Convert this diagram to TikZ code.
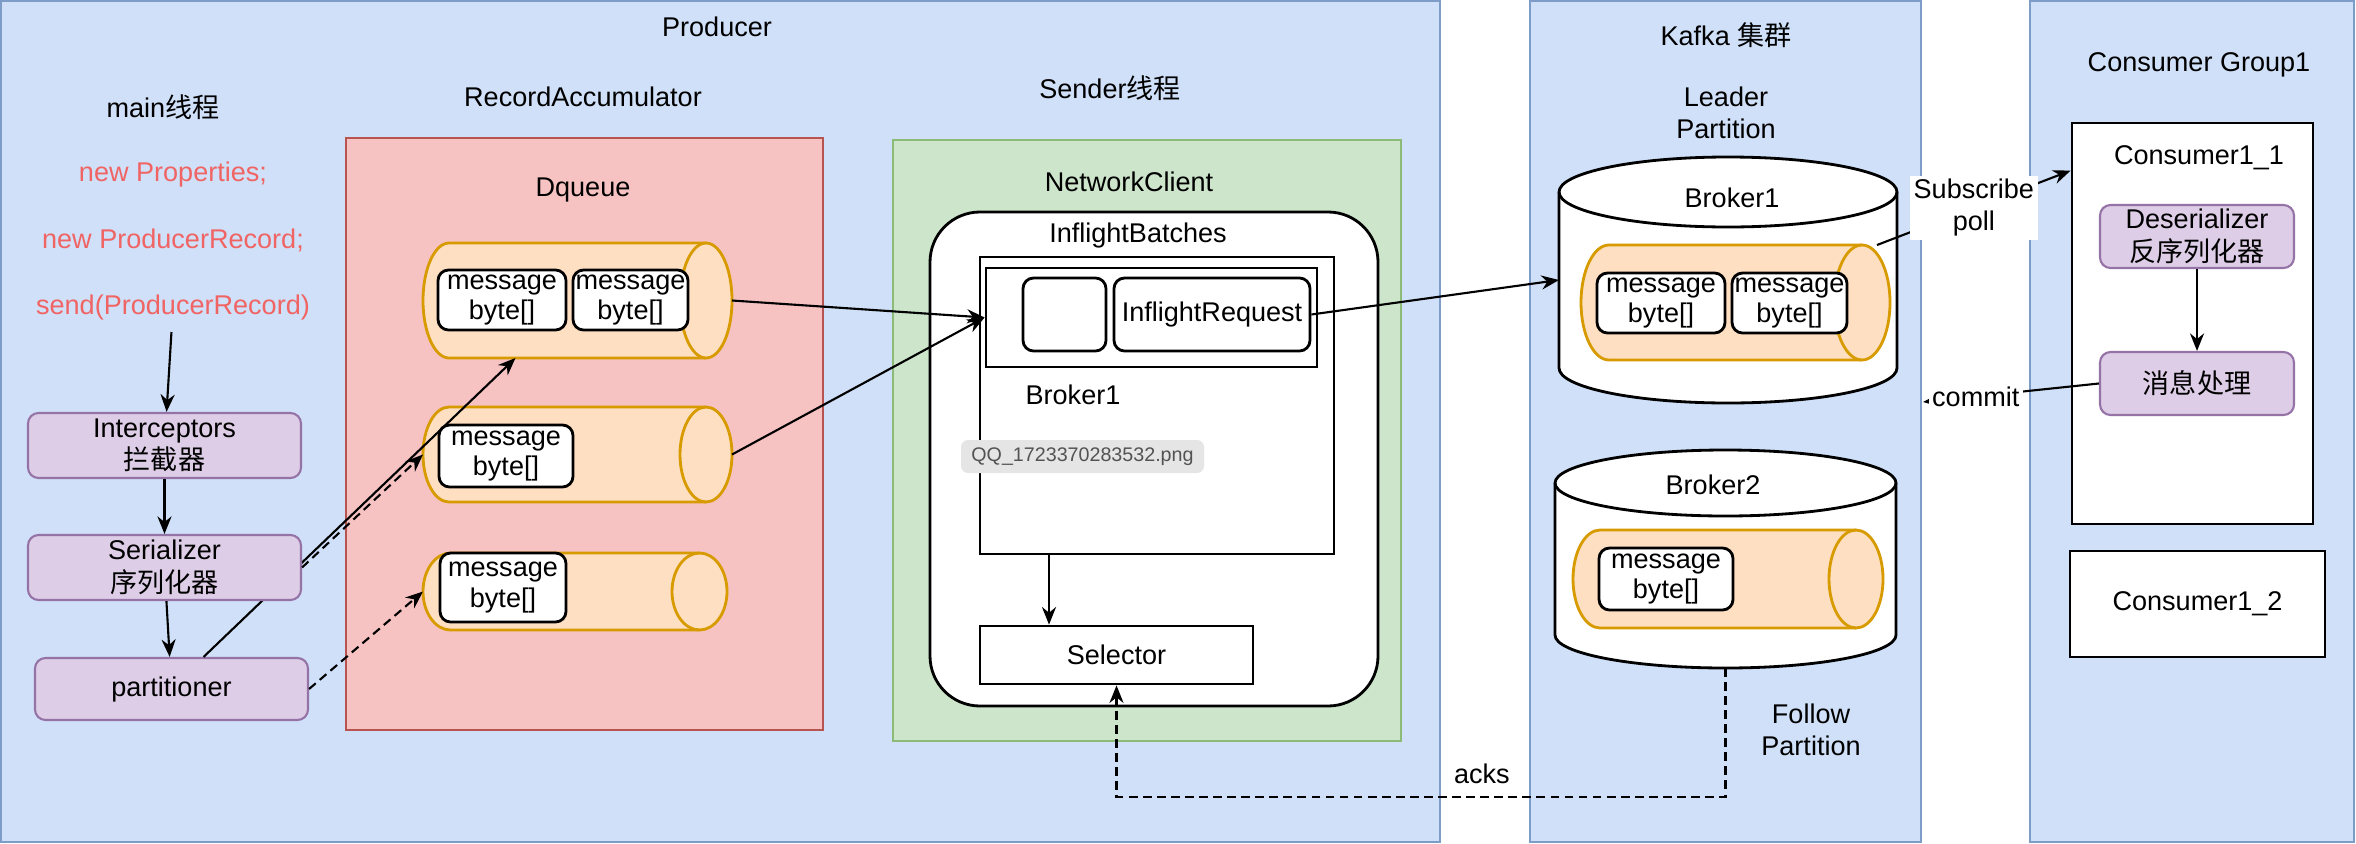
\documentclass[tikz,border=0pt]{standalone}
\usepackage{fontspec}
\setmainfont{Liberation Sans}
\newfontfamily\cjk{Noto Sans CJK SC}
\usepackage{xcolor}
\definecolor{mblue}{HTML}{CFE0F8}
\definecolor{mblueline}{HTML}{7E9CC8}
\definecolor{mpink}{HTML}{F6C3C2}
\definecolor{mpinkline}{HTML}{B85450}
\definecolor{mgreen}{HTML}{CDE5CA}
\definecolor{mgreenline}{HTML}{8CBB78}
\definecolor{morange}{HTML}{FFDFC2}
\definecolor{morangeline}{HTML}{D79B00}
\definecolor{mpurple}{HTML}{DDCDE6}
\definecolor{mpurpleline}{HTML}{9673A6}
\definecolor{mred}{HTML}{F06464}
\usepackage{tikz}
\usetikzlibrary{arrows.meta,positioning}

\begin{document}
\begin{tikzpicture}[x=1cm, y=-1cm,
    font=\fontsize{7.7}{9.2}\selectfont,
    panel/.style={draw=mblueline, fill=mblue, semithick},
    procbox/.style={draw=mpurpleline, fill=mpurple, semithick, rounded corners=3pt, align=center, inner sep=0pt},
    msg/.style={draw, thick, fill=white, rounded corners=3pt, align=center, inner sep=0pt, font=\fontsize{7.7}{8.6}\selectfont},
    plainbox/.style={draw, thick, fill=white, align=center, inner sep=0pt},
    arr/.style={-{Stealth[length=5pt, width=4pt]}, semithick},
    dsh/.style={arr, dash pattern=on 2.5pt off 1.5pt},
    pics/hcyl/.style n args={3}{code={
        \node[minimum width=#1cm, minimum height=#2cm, inner sep=0pt, outer sep=0pt] (-box) {};
        \draw[draw=morangeline, fill=morange, thick] ([xshift=#3cm]-box.north west) -- ([xshift=-#3cm]-box.north east)
            arc[start angle=90, end angle=-90, x radius=#3cm, y radius=#2cm/2] -- ([xshift=#3cm]-box.south west)
            arc[start angle=270, end angle=90, x radius=#3cm, y radius=#2cm/2] -- cycle;
        \draw[draw=morangeline, thick] ([xshift=-#3cm]-box.north east) arc[start angle=90, end angle=270, x radius=#3cm, y radius=#2cm/2];
    }},
    pics/vcyl/.style n args={3}{code={
        \node[minimum width=#1cm, minimum height=#2cm, inner sep=0pt, outer sep=0pt] (-box) {};
        \draw[thick, fill=white] ([yshift=-#3cm]-box.north west) -- ([yshift=#3cm]-box.south west)
            arc[start angle=180, end angle=360, x radius=#1cm/2, y radius=#3cm] -- ([yshift=-#3cm]-box.north east)
            arc[start angle=0, end angle=180, x radius=#1cm/2, y radius=#3cm] -- cycle;
        \draw[thick] ([yshift=-#3cm]-box.north west) arc[start angle=180, end angle=360, x radius=#1cm/2, y radius=#3cm];
    }}]
    \useasboundingbox (0,0) rectangle (23.56,8.43);
    \fill[white] (0,0) rectangle (23.56,8.43);
    \draw[panel] (0.01,0.01) rectangle (14.40,8.42);
    \draw[panel] (15.30,0.01) rectangle (19.21,8.42);
    \draw[panel] (20.30,0.01) rectangle (23.54,8.42);
    \node (producer) at (7.17,0.27) {Producer};
    \node (kafka) at (17.26,0.35) {Kafka \cjk{集群}};
    \node (cgroup) at (21.99,0.65) {Consumer Group1};
    \node[align=center] (leader) at (17.26,1.13) {Leader\\Partition};

    \node (mainth) at (1.63,1.07) {main\cjk{线程}};
    \node[text=mred] (props) at (1.73,1.75) {new Properties;};
    \node[text=mred] (precord) at (1.73,2.40) {new ProducerRecord;};
    \node[text=mred] (send) at (1.73,3.07) {send(ProducerRecord)};
    \node[procbox, minimum width=2.73cm, minimum height=0.65cm] (icpt) at (1.645,4.455) {Interceptors\\\cjk{拦截器}};
    \node[procbox, minimum width=2.73cm, minimum height=0.62cm] (part) at (1.715,6.89) {partitioner};

    \node (raccu) at (5.83,0.97) {RecordAccumulator};
    \draw[draw=mpinkline, fill=mpink, semithick] (3.46,1.38) rectangle (8.23,7.30);
    \node (dqueue) at (5.83,1.90) {Dqueue};
    \pic (q1) at (5.775,3.005) {hcyl={3.09}{1.15}{0.26}};
    \pic (q2) at (5.775,4.545) {hcyl={3.09}{0.95}{0.26}};
    \pic (q3) at (5.75,5.915) {hcyl={3.04}{0.77}{0.275}};
    \node[msg, minimum width=1.28cm, minimum height=0.60cm] (m11) at (5.02,3.00) {message\\byte[]};
    \node[msg, minimum width=1.15cm, minimum height=0.60cm] (m12) at (6.305,3.00) {message\\byte[]};
    \node[msg, minimum width=1.34cm, minimum height=0.62cm] (m2) at (5.06,4.56) {message\\byte[]};
    \node[msg, minimum width=1.26cm, minimum height=0.69cm] (m3) at (5.03,5.875) {message\\byte[]};

    \draw[arr] (part.45) -- ([xshift=-0.62cm]q1-box.south);
    \node[procbox, minimum width=2.73cm, minimum height=0.65cm] (ser) at (1.645,5.675) {Serializer\\\cjk{序列化器}};
    \draw[arr] (send) -- (icpt);
    \draw[arr] (icpt) -- (ser);
    \draw[arr] (ser) -- (part);
    \draw[dsh] (ser.east) -- (q2-box.west);
    \draw[dsh] (part.east) -- (q3-box.west);

    \node (senderth) at (11.10,0.88) {Sender\cjk{线程}};
    \draw[draw=mgreenline, fill=mgreen, semithick] (8.93,1.40) rectangle (14.01,7.41);
    \node (nclient) at (11.29,1.82) {NetworkClient};
    \draw[thick, fill=white, rounded corners=0.5cm] (9.30,2.12) rectangle (13.78,7.06);
    \node (ibatches) at (11.38,2.35) {InflightBatches};
    \node[plainbox, minimum width=3.54cm, minimum height=2.97cm] (bcont) at (11.57,4.055) {};
    \node[plainbox, minimum width=3.31cm, minimum height=0.99cm] (irow) at (11.515,3.175) {};
    \node[msg, minimum width=0.83cm, minimum height=0.73cm] (islot) at (10.645,3.145) {};
    \node[msg, minimum width=1.96cm, minimum height=0.73cm] (ireq) at (12.12,3.145) {InflightRequest};
    \node (bname) at (10.73,3.95) {Broker1};
    \node[fill=gray!20, text=gray!65!black, rounded corners=2pt, minimum width=2.43cm, minimum height=0.33cm, inner sep=0pt, font=\fontsize{5.6}{6.7}\selectfont] (tip) at (10.825,4.565) {QQ\_1723370283532.png};
    \node[plainbox, minimum width=2.73cm, minimum height=0.58cm] (sel) at (11.165,6.55) {Selector};
    \draw[arr] ([xshift=-1.08cm]bcont.south) -- ([xshift=-1.08cm]bcont.south |- sel.north);
    \draw[arr] (q1-box.east) -- (irow.west);
    \draw[arr] (q2-box.east) -- (irow.west);

    \pic (bk1) at (17.28,2.80) {vcyl={3.38}{2.46}{0.35}};
    \node (bk1name) at (17.32,1.98) {Broker1};
    \pic (q4) at (17.355,3.025) {hcyl={3.09}{1.15}{0.28}};
    \node[msg, minimum width=1.28cm, minimum height=0.60cm] (m41) at (16.61,3.03) {message\\byte[]};
    \node[msg, minimum width=1.15cm, minimum height=0.60cm] (m42) at (17.895,3.03) {message\\byte[]};
    \pic (bk2) at (17.255,5.59) {vcyl={3.41}{2.18}{0.33}};
    \node (bk2name) at (17.13,4.85) {Broker2};
    \pic (q5) at (17.28,5.79) {hcyl={3.10}{0.98}{0.27}};
    \node[msg, minimum width=1.34cm, minimum height=0.62cm] (m5) at (16.66,5.79) {message\\byte[]};
    \node[align=center] (follow) at (18.11,7.30) {Follow\\Partition};
    \draw[arr] (ireq.east) -- (bk1-box.west);
    \draw[dsh] (bk2-box.south) -- ++(0,1.29) -| node[pos=0.2, above] {acks} (sel.south);

    \node[plainbox, minimum width=2.41cm, minimum height=4.01cm] (c11) at (21.925,3.235) {};
    \node (c11name) at (21.99,1.58) {Consumer1\_1};
    \node[procbox, minimum width=1.94cm, minimum height=0.63cm] (deser) at (21.97,2.365) {Deserializer\\\cjk{反序列化器}};
    \node[procbox, minimum width=1.94cm, minimum height=0.63cm] (mproc) at (21.97,3.835) {\cjk{消息处理}};
    \node[plainbox, minimum width=2.55cm, minimum height=1.06cm] (c12) at (21.975,6.04) {Consumer1\_2};
    \draw[arr] (deser) -- (mproc);
    \draw[arr] ([xshift=-0.13cm]q4-box.north east) -- node[fill=white, align=center, inner sep=1pt] {Subscribe\\poll} ([yshift=-0.49cm]c11.north west);
    \coordinate (cmend) at (19.23,4.02);
    \draw[arr] (mproc.west) -- node[pos=0.7, fill=white, inner sep=1pt] {commit} (cmend);
\end{tikzpicture}
\end{document}
